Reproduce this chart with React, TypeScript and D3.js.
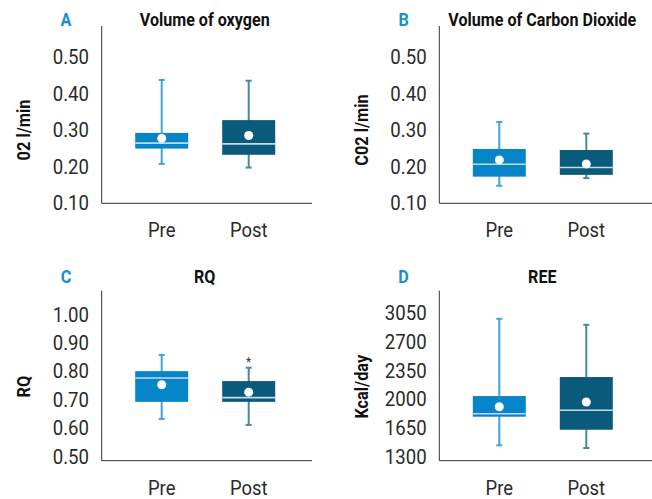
import React from "react";
import * as d3 from "d3";

// Groups compared in every panel
const groups = ["Pre", "Post"];

// Summary statistics per group: [min, q1, median, q3, max, mean]
const o2Pre = [0.208, 0.25, 0.265, 0.293, 0.438, 0.278];
const o2Post = [0.198, 0.233, 0.263, 0.328, 0.436, 0.286];
const co2Pre = [0.148, 0.173, 0.207, 0.249, 0.323, 0.219];
const co2Post = [0.169, 0.178, 0.198, 0.246, 0.291, 0.208];
const rqPre = [0.633, 0.693, 0.777, 0.801, 0.858, 0.753];
const rqPost = [0.612, 0.693, 0.708, 0.766, 0.813, 0.727];
const reePre = [1439, 1788, 1824, 2040, 2983, 1910];
const reePost = [1406, 1629, 1866, 2272, 2910, 1967];

// Axis tick values
const ticksVol = [0.1, 0.2, 0.3, 0.4, 0.5];
const ticksRq = [0.5, 0.6, 0.7, 0.8, 0.9, 1.0];
const ticksRee = [1300, 1650, 2000, 2350, 2700, 3050];

// Visible axis extents (value at bottom, value at top)
const domainVol = [0.1, 0.586];
const domainRq = [0.486, 1.084];
const domainRee = [1251, 3326];

const FONT = "Roboto, 'Liberation Sans', Arial, sans-serif";
const boxFill = ["#0785c9", "#0a5a7b"];
const whiskerColor = ["#3fa3dc", "#4a86a1"];
const medianColor = "#c3dbe7";
const letterColor = "#1a8fd0";
const textColor = "#2a2a2a";

type PanelCfg = {
  letter: string;
  title: string;
  yLabel: string;
  stats: number[][];
  ticks: number[];
  domain: number[];
  fmt: (v: number) => string;
  axisX: number;
  axisTop: number;
  axisBottom: number;
  axisRight: number;
  titleY: number;
  yLabelY: number;
  star?: boolean;
};

const f2 = d3.format(".2f");
const f0 = d3.format("d");

const panels: PanelCfg[] = [
  {
    letter: "A", title: "Volume of oxygen", yLabel: "02 l/min",
    stats: [o2Pre, o2Post], ticks: ticksVol, domain: domainVol, fmt: f2,
    axisX: 101.7, axisTop: 26, axisBottom: 203.3, axisRight: 312,
    titleY: 20, yLabelY: 130,
  },
  {
    letter: "B", title: "Volume of Carbon Dioxide", yLabel: "C02 l/min",
    stats: [co2Pre, co2Post], ticks: ticksVol, domain: domainVol, fmt: f2,
    axisX: 439.3, axisTop: 26, axisBottom: 203.3, axisRight: 652,
    titleY: 20, yLabelY: 130,
  },
  {
    letter: "C", title: "RQ", yLabel: "RQ",
    stats: [rqPre, rqPost], ticks: ticksRq, domain: domainRq, fmt: f2,
    axisX: 101.7, axisTop: 290.7, axisBottom: 460.7, axisRight: 312,
    titleY: 276.7, yLabelY: 386.7, star: true,
  },
  {
    letter: "D", title: "REE", yLabel: "Kcal/day",
    stats: [reePre, reePost], ticks: ticksRee, domain: domainRee, fmt: f0,
    axisX: 439.3, axisTop: 290.7, axisBottom: 460.7, axisRight: 652,
    titleY: 276.7, yLabelY: 386.7,
  },
];

const BOX_W = 53;
const CAP_W = 6;

// Narrowed text: positioned by translate, horizontally compressed by sx
function NText(props: {
  x: number; y: number; sx: number; rotate?: number; size: number; weight?: number;
  anchor: "start" | "middle" | "end"; fill: string; children: React.ReactNode;
}) {
  const { x, y, sx, rotate = 0, size, weight = 400, anchor, fill, children } = props;
  return (
    <text transform={`translate(${x},${y}) rotate(${rotate}) scale(${sx},1)`} dy="0.35em"
      textAnchor={anchor} fontFamily={FONT} fontSize={size} fontWeight={weight} fill={fill}>
      {children}
    </text>
  );
}

function Panel({ cfg }: { cfg: PanelCfg }) {
  const y = d3.scaleLinear().domain(cfg.domain).range([cfg.axisBottom, cfg.axisTop]);
  const x = d3.scalePoint<string>().domain(groups).range([cfg.axisX + 60, cfg.axisX + 147]);
  const titleX = cfg.axisX + 103;

  return (
    <g>
      <NText x={cfg.axisX - 35.7} y={cfg.titleY} sx={0.9} size={18} weight={700}
        anchor="middle" fill={letterColor}>{cfg.letter}</NText>
      <NText x={titleX} y={cfg.titleY} sx={0.87} size={18.5} weight={700}
        anchor="middle" fill="#111">{cfg.title}</NText>
      <NText x={cfg.axisX - 78} y={cfg.yLabelY} rotate={-90} sx={0.86} size={19} weight={700}
        anchor="middle" fill="#111">{cfg.yLabel}</NText>

      {/* axes */}
      <path d={`M${cfg.axisX},${cfg.axisTop}V${cfg.axisBottom}H${cfg.axisRight}`}
        fill="none" stroke="#333" strokeWidth={1} />
      {cfg.ticks.map((t) => (
        <NText key={t} x={cfg.axisX - 12.7} y={y(t)} sx={0.93} size={20}
          anchor="end" fill={textColor}>{cfg.fmt(t)}</NText>
      ))}
      {groups.map((g) => (
        <NText key={g} x={x(g) as number} y={cfg.axisBottom + 26.7} sx={0.9} size={20.5}
          anchor="middle" fill={textColor}>{g}</NText>
      ))}

      {/* box plots */}
      {groups.map((g, i) => {
        const [mn, q1, med, q3, mx, mean] = cfg.stats[i];
        const cx = x(g) as number;
        return (
          <g key={g}>
            <line x1={cx} x2={cx} y1={y(mx)} y2={y(mn)} stroke={whiskerColor[i]} strokeWidth={2} />
            <line x1={cx - CAP_W / 2} x2={cx + CAP_W / 2} y1={y(mx)} y2={y(mx)} stroke={whiskerColor[i]} strokeWidth={2} />
            <line x1={cx - CAP_W / 2} x2={cx + CAP_W / 2} y1={y(mn)} y2={y(mn)} stroke={whiskerColor[i]} strokeWidth={2} />
            <rect x={cx - BOX_W / 2} y={y(q3)} width={BOX_W} height={y(q1) - y(q3)} fill={boxFill[i]} />
            <line x1={cx - BOX_W / 2} x2={cx + BOX_W / 2} y1={y(med)} y2={y(med)} stroke={medianColor} strokeWidth={1.6} />
            <circle cx={cx} cy={y(mean)} r={4.5} fill="#fff" />
            {cfg.star && i === 1 ? (
              <text x={cx} y={y(mx) - 6} dy="0.35em" textAnchor="middle" fontFamily={FONT}
                fontSize={12} fill="#333">*</text>
            ) : null}
          </g>
        );
      })}
    </g>
  );
}

export default function App() {
  return (
    <svg width={652} height={499} style={{ position: "absolute", left: 0, top: 0, background: "#fff" }}>
      <rect width={652} height={499} fill="#fff" />
      {panels.map((p) => (
        <Panel key={p.letter} cfg={p} />
      ))}
    </svg>
  );
}
